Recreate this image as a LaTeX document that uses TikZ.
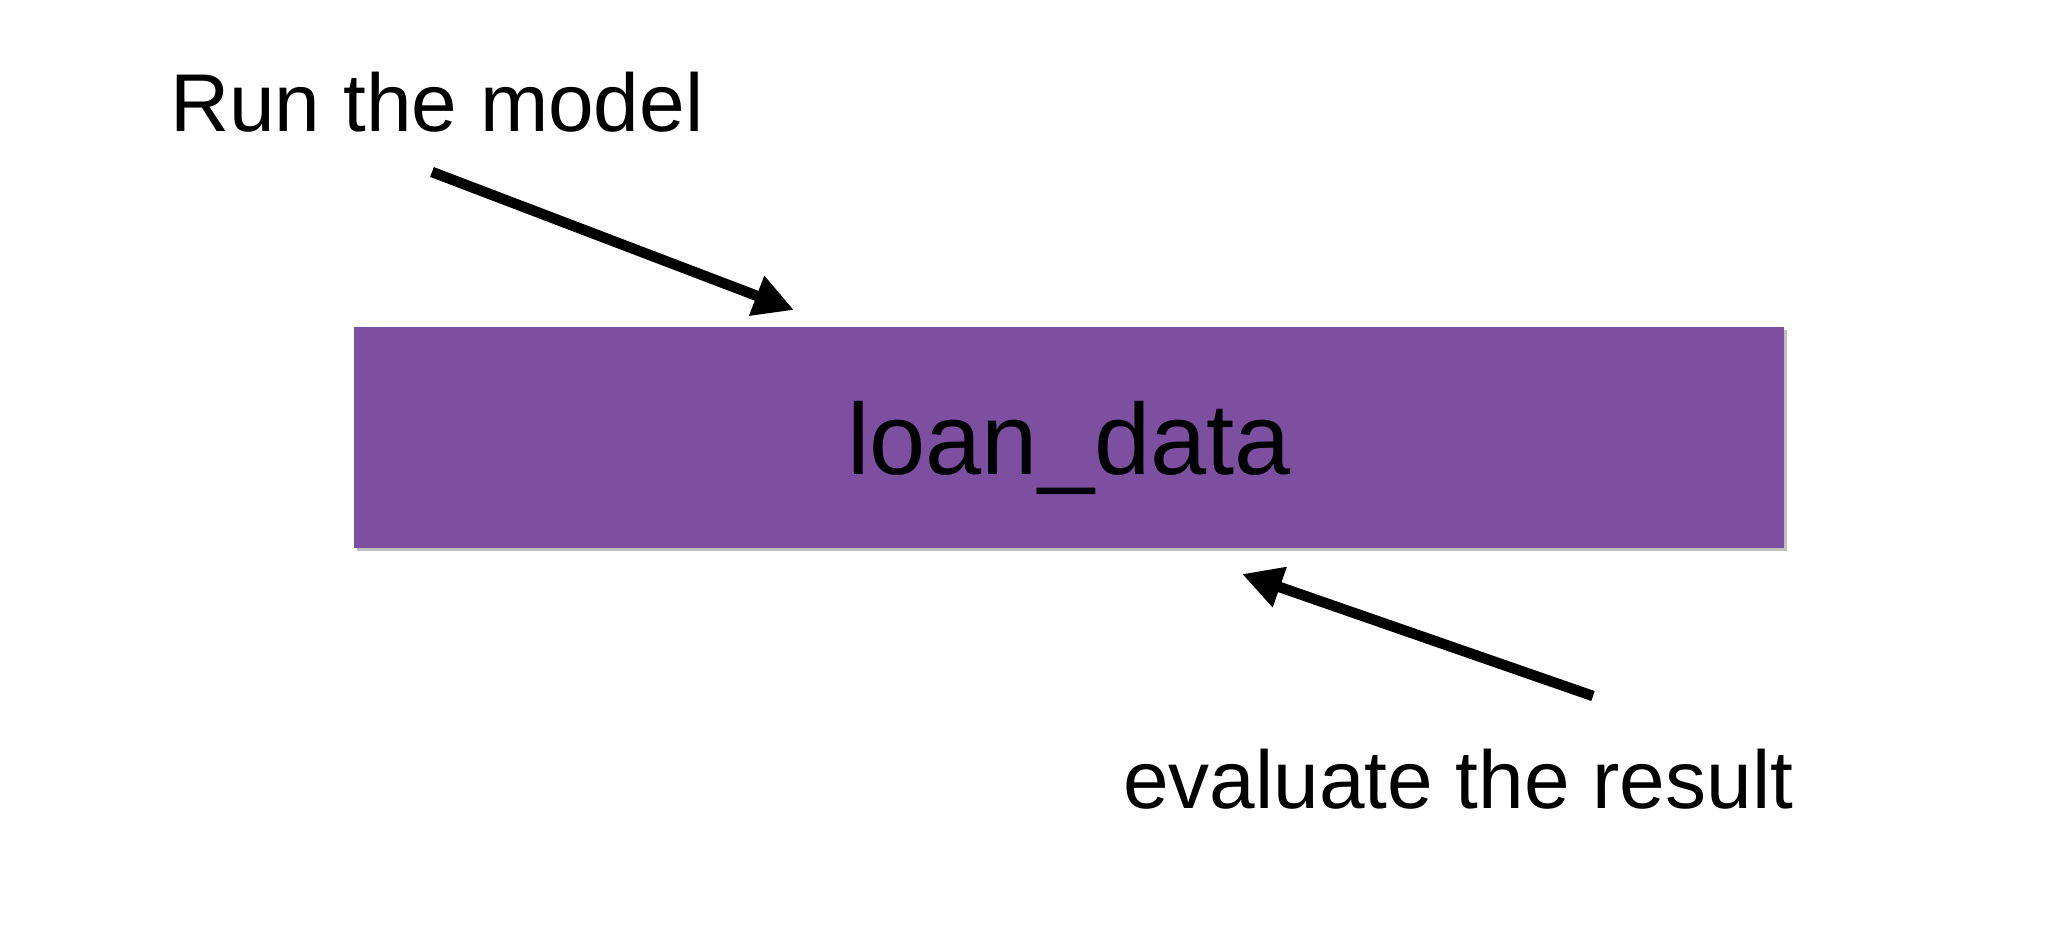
\documentclass[tikz,border=0pt]{standalone}
\usepackage{fontspec}
\setmainfont{Liberation Sans}
\usetikzlibrary{arrows.meta}
\definecolor{boxpurple}{RGB}{124,79,161}
\tikzset{
  databox/.style={fill=boxpurple, draw=none, minimum width=1430pt, minimum height=221pt, inner sep=0pt},
  lbl/.style={inner sep=0pt, font=\fontsize{82}{90}\selectfont},
  biglbl/.style={inner sep=0pt, font=\fontsize{101}{110}\selectfont},
  pointer/.style={line width=10.5pt, -{Triangle[length=40pt,width=40pt]}}
}
\begin{document}
\begin{tikzpicture}[x=1pt,y=-1pt]
\useasboundingbox (0,0) rectangle (2054,946);
\fill[black!25] (357,330) rectangle (1787,551);
\node[databox] (data) at (1069,437.5) {};
\node[biglbl, anchor=base] (datalbl) at (1069,474) {loan\_data};
\node[lbl, anchor=base west] (run) at (170,131) {Run the model};
\node[lbl, anchor=base west] (eval) at (1123,808) {evaluate the result};
\coordinate (a1s) at (432,172);
\coordinate (a1e) at (794,310);
\coordinate (a2s) at (1593,696);
\coordinate (a2e) at (1242,574);
\draw[pointer] (a1s) -- (a1e);
\draw[pointer] (a2s) -- (a2e);
\end{tikzpicture}
\end{document}
